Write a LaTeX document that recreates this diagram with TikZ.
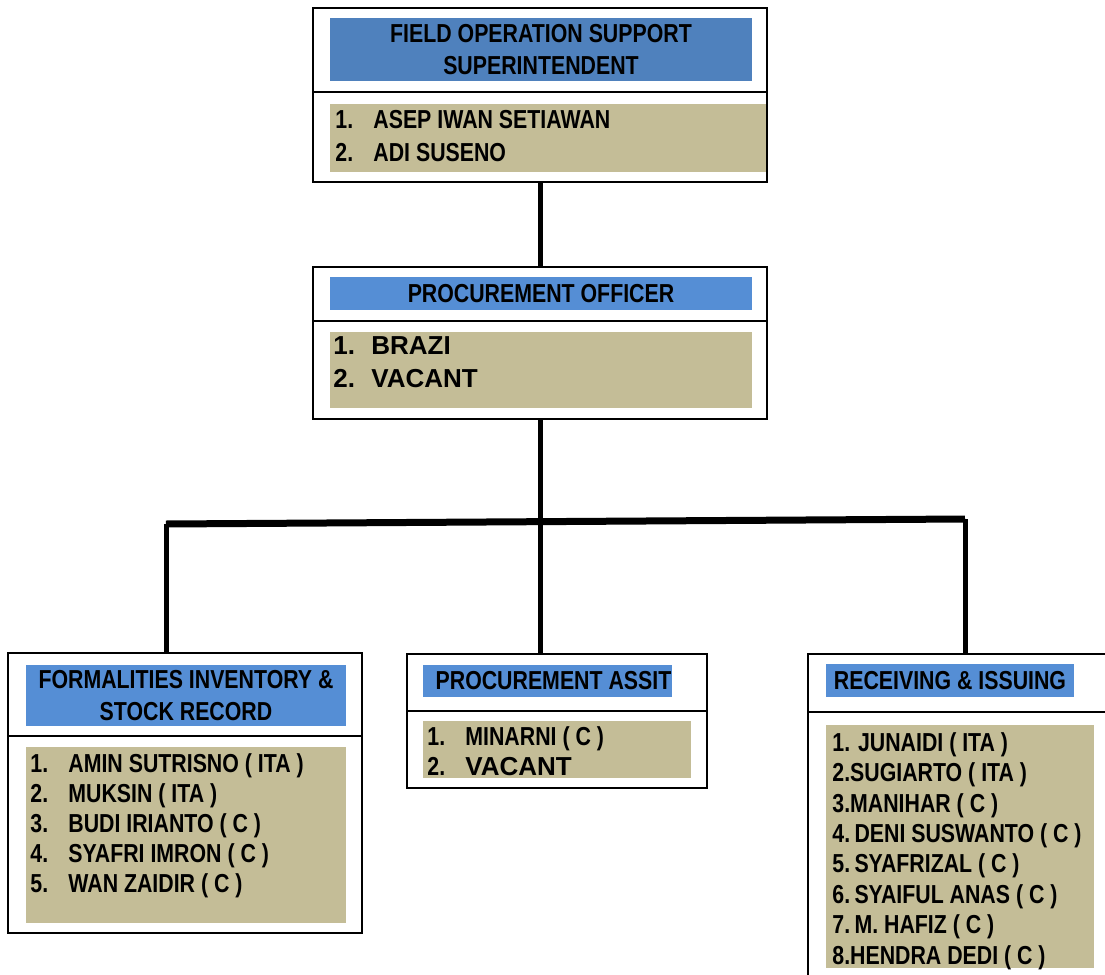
\documentclass[tikz,border=0pt]{standalone}
\usepackage{fontspec}
\setmainfont{Liberation Sans}
\newfontfamily\narrowfont[FakeStretch = 0.82]{Liberation Sans}
\usepackage{tikz}

\definecolor{topblue}{HTML}{4F81BD}
\definecolor{hdrblue}{HTML}{558ED5}
\definecolor{nametan}{HTML}{C4BD97}
\newcommand{\itemno}[1]{\makebox[19pt][l]{#1}}

\begin{document}
\begin{tikzpicture}[x = 0.5pt, y = -0.5pt,
    cell/.style = {draw, line width = 1pt, inner sep = 0pt},
    header/.style = {fill = hdrblue, inner sep = 0pt, align = center,
        font = \narrowfont\bfseries\fontsize{13}{16}\selectfont},
    namebox/.style = {fill = nametan, inner sep = 0pt},
    names/.style = {anchor = north west, inner sep = 0pt, align = left,
        font = \narrowfont\bfseries\fontsize{13}{15}\selectfont},
    link/.style = {line width = 2.5pt}]
    \useasboundingbox (0,0) rectangle (1105,975);
    \clip (0,0) rectangle (1105,975);
    % superintendent
    \node[namebox, minimum width = 218.5pt, minimum height = 34pt] (fosN) at (548.5,138) {};
    \node[cell, minimum width = 227pt, minimum height = 42pt] (fosH) at (540,50) {};
    \node[cell, minimum width = 227pt, minimum height = 45pt] (fosL) at (540,137) {};
    \node[header, fill = topblue, minimum width = 211pt, minimum height = 31.5pt] (fosT) at (541,49.5)
        {FIELD OPERATION SUPPORT\\SUPERINTENDENT};
    \node[names, font = \narrowfont\bfseries\fontsize{13}{16.5}\selectfont] (fosList) at (335,110)
        {\itemno{1.}ASEP IWAN SETIAWAN\\\itemno{2.}ADI SUSENO};
    % procurement officer
    \node[namebox, minimum width = 211pt, minimum height = 38pt] (poN) at (541,370) {};
    \node[cell, minimum width = 227pt, minimum height = 27pt] (poH) at (540,294) {};
    \node[cell, minimum width = 227pt, minimum height = 49pt] (poL) at (540,370) {};
    \node[header, minimum width = 211pt, minimum height = 16.5pt] (poT) at (541,293.5)
        {PROCUREMENT OFFICER};
    \node[names, font = \bfseries\fontsize{13}{16.5}\selectfont] (poList) at (333,336)
        {\itemno{1.}BRAZI\\\itemno{2.}VACANT};
    % formalities
    \node[namebox, minimum width = 160pt, minimum height = 88pt] (fiN) at (186,835) {};
    \node[cell, minimum width = 177pt, minimum height = 41.5pt] (fiH) at (185,694.5) {};
    \node[cell, minimum width = 177pt, minimum height = 98.5pt] (fiL) at (185,834.5) {};
    \node[header, minimum width = 160pt, minimum height = 30.5pt] (fiT) at (186,695.5)
        {FORMALITIES INVENTORY \&\\STOCK RECORD};
    \node[names] (fiList) at (30,753)
        {\itemno{1.}AMIN SUTRISNO ( ITA )\\\itemno{2.}MUKSIN ( ITA )\\\itemno{3.}BUDI IRIANTO ( C )\\
         \itemno{4.}SYAFRI IMRON ( C )\\\itemno{5.}WAN ZAIDIR ( C )};
    % procurement assistant
    \node[namebox, minimum width = 134pt, minimum height = 28.5pt] (paN) at (557,749.5) {};
    \node[cell, minimum width = 150pt, minimum height = 28.5pt] (paH) at (557,682.5) {};
    \node[cell, minimum width = 150pt, minimum height = 38.5pt] (paL) at (557,749.5) {};
    \node[header, minimum width = 124.5pt, minimum height = 16pt] (paT) at (547.5,681)
        {\hspace{6pt}PROCUREMENT ASSIT};
    \node[names] (paList) at (427,726)
        {\itemno{1.}MINARNI ( C )\\\itemno{2.}{\normalfont\bfseries\fontsize{13}{15}\selectfont VACANT}};
    % receiving and issuing
    \node[namebox, minimum width = 134pt, minimum height = 121.5pt] (riN) at (960,846.5) {};
    \node[cell, minimum width = 152pt, minimum height = 29pt] (riH) at (960,683) {};
    \node[cell, minimum width = 152pt, minimum height = 144pt] (riL) at (960,856) {};
    \node[header, minimum width = 124pt, minimum height = 16.5pt] (riT) at (950,680.5)
        {RECEIVING \& ISSUING};
    \node[names, font = \narrowfont\bfseries\fontsize{13}{15.2}\selectfont] (riList) at (832,732)
        {1. JUNAIDI ( ITA )\\2.SUGIARTO ( ITA )\\3.MANIHAR ( C )\\4.\,DENI SUSWANTO ( C )\\
         5.\,SYAFRIZAL ( C )\\6.\,SYAIFUL ANAS ( C )\\7.\,M. HAFIZ ( C )\\8.HENDRA DEDI ( C )};
    % connectors
    \coordinate (barL) at (166,524);
    \coordinate (barR) at (965,519);
    \draw[link] (fosL.south) -- (poH.north);
    \draw[link] (poL.south) -- (poL.south |- paH.north);
    \draw[line width = 3.5pt] (barL) -- (barR);
    \draw[link] (barL) -- (barL |- fiH.north);
    \draw[link] (barR) -- (barR |- riH.north);
\end{tikzpicture}
\end{document}
